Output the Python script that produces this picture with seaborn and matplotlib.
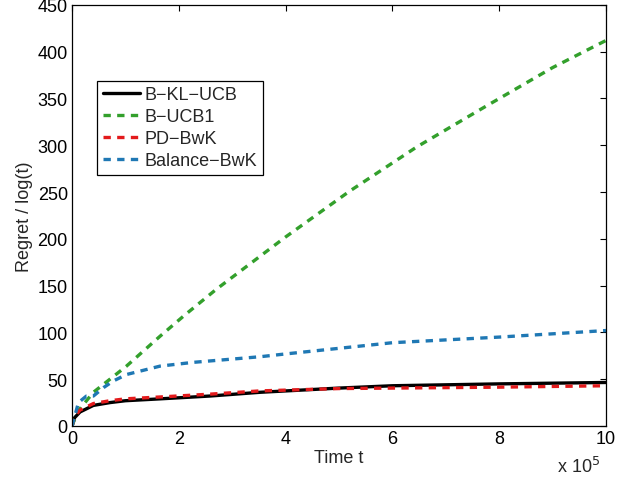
import numpy as np
import pandas as pd
import matplotlib
matplotlib.use("Agg")
import matplotlib.pyplot as plt
import seaborn as sns

# Time in units of 1e5
t_klucb = [0, 0.05, 0.15, 0.4, 0.71, 1.0, 1.65, 2.58, 3.52, 5.0, 6.0, 8.0, 10.0]
y_klucb = [0, 9, 15, 22, 25, 27, 29, 32, 36, 40.5, 43, 45, 46.5]

t_ucb1 = [0, 0.1, 0.4, 1.02, 1.65, 2.1, 2.7, 4.0, 5.2, 6.45, 7.7, 9.0, 10.0]
y_ucb1 = [0, 15, 36, 64, 96, 118, 146, 202, 251, 298, 340, 383, 412]

t_pd = [0, 0.05, 0.15, 0.4, 0.71, 1.0, 1.65, 2.58, 3.52, 5.0, 6.0, 8.0, 10.0]
y_pd = [0, 10, 17, 24, 27, 29, 31, 34, 37.5, 40, 40.5, 41.5, 43]

t_bal = [0, 0.02, 0.12, 0.27, 0.4, 0.59, 0.77, 1.02, 1.65, 2.27, 3.52, 4.0, 6.0, 8.0, 10.0]
y_bal = [0, 4, 25, 32, 32, 41, 48, 55, 64, 68, 74, 77, 89, 95, 102]

names = ["B\u2212KL\u2212UCB", "B\u2212UCB1", "PD\u2212BwK", "Balance\u2212BwK"]
colors = ["#000000", "#33a02c", "#e31a1c", "#1f78b4"]

frames = []
for name, t, y in zip(names, [t_klucb, t_ucb1, t_pd, t_bal], [y_klucb, y_ucb1, y_pd, y_bal]):
    frames.append(pd.DataFrame({"t": t, "regret": y, "algo": name}))
df = pd.concat(frames, ignore_index=True)

sns.set_style("white")
plt.rcParams["font.family"] = ["Liberation Sans", "DejaVu Sans"]

fig = plt.figure(figsize=(6.34, 4.81), dpi=100)
ax = fig.add_axes([0.1136, 0.1123, 0.8422, 0.8754])

dash = (2.2, 1.9)
sns.lineplot(
    data=df, x="t", y="regret", hue="algo", style="algo",
    hue_order=names, style_order=names,
    palette=dict(zip(names, colors)),
    dashes={names[0]: "", names[1]: dash, names[2]: dash, names[3]: dash},
    linewidth=2.4, ax=ax, sort=True, estimator=None,
)

fs = 13
ax.set_xlim(0, 10)
ax.set_ylim(0, 450)
ax.set_xticks(range(0, 11, 2))
ax.set_yticks(range(0, 451, 50))
ax.tick_params(direction="in", top=True, right=True, labelsize=fs, length=4,
               width=0.8, colors="black", pad=3)
for s in ax.spines.values():
    s.set_linewidth(0.9)
    s.set_color("black")
ax.set_xlabel("Time t", fontsize=fs, labelpad=1)
ax.set_ylabel("Regret / log(t)", fontsize=fs, labelpad=3)
ax.text(0.99, -0.109, "x 10$^5$", transform=ax.transAxes, ha="right", va="baseline", fontsize=fs)

leg = ax.legend(loc="upper left", bbox_to_anchor=(0.047, 0.82), fontsize=fs,
                frameon=True, fancybox=False, edgecolor="black", framealpha=1,
                handlelength=2.1, borderpad=0.3, labelspacing=0.28, handletextpad=0.25,
                borderaxespad=0)
leg.get_frame().set_linewidth(0.9)

fig.savefig("out.png", dpi=100)
